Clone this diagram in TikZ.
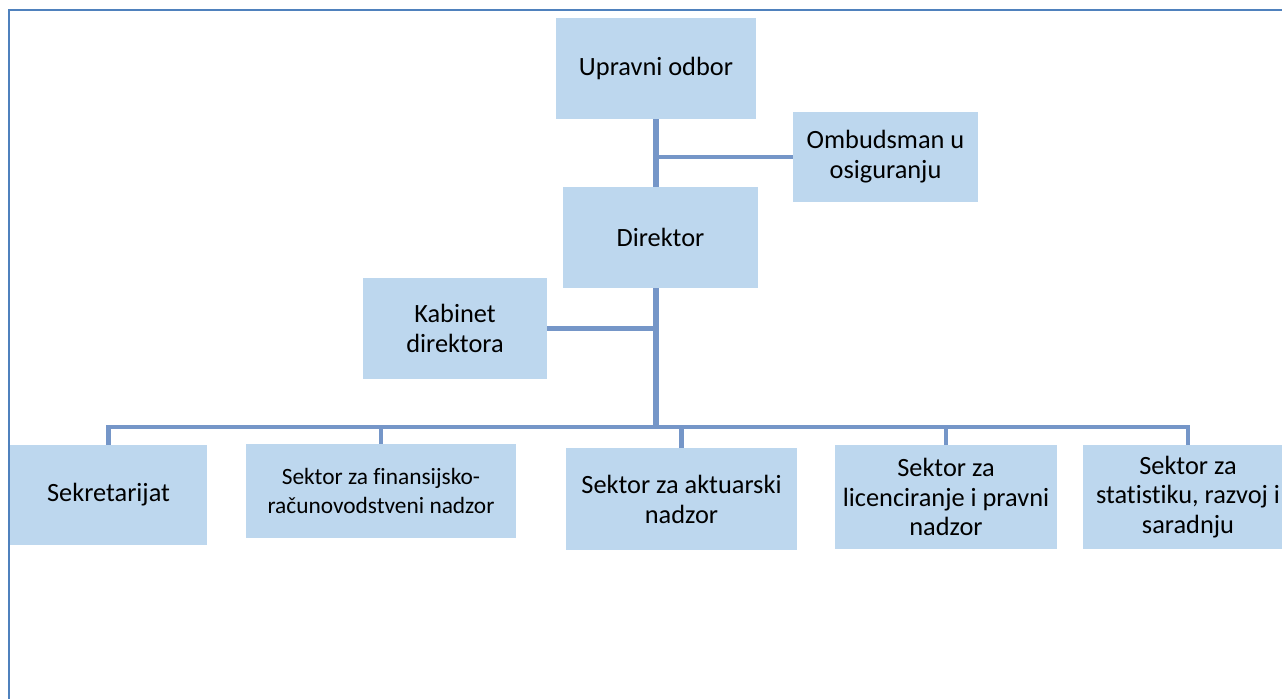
\documentclass[tikz,border=0pt]{standalone}
\usepackage{fontspec}
\setmainfont[Ligatures=NoCommon]{Carlito}
\usepackage{tikz}
\usetikzlibrary{positioning}
\usetikzlibrary{calc}
\definecolor{box blue}{RGB}{189,215,238}
\definecolor{line blue}{RGB}{117,150,200}
\definecolor{frame blue}{RGB}{79,129,189}
\tikzset{
    % Light filled box used for every unit of the chart
    unit box/.style={
        fill=box blue, inner sep=0, align=center,
        font=\fontsize{15}{17}\selectfont},
%
    % Slightly smaller text where the label is long
    small text/.style={font=\fontsize{13.3}{16}\selectfont},
%
    % The heavy line running down the middle
    trunk line/.style={draw=line blue, line width=3.8pt},
%
    % Thinner lines out to the other boxes
    branch line/.style={draw=line blue, line width=2.8pt},
%
    % Frame round the page
    frame line/.style={draw=frame blue, line width=1.3pt}}
\pgfdeclarelayer{background}
\pgfsetlayers{background,main}
\begin{document}
\begin{tikzpicture}[x=0.02cm, y=-0.02cm]

% Page size and frame

\useasboundingbox (0,0) rectangle (1282,698);
\clip (0,0) rectangle (1282,698);
\draw [frame line] (9,720) -- (9,10) -- (1300,10);

% Management

\node [unit box, minimum width=4cm, minimum height=2.02cm]
    (upravni) at (656,68.5) {Upravni odbor};
\node [unit box, minimum width=3.7cm, minimum height=1.8cm]
    (ombudsman) at (885.5,157) {Ombudsman u\\osiguranju};
\node [unit box, minimum width=3.9cm, minimum height=2.02cm]
    (direktor) at (660.5,237.5) {Direktor};
\node [unit box, minimum width=3.68cm, minimum height=2.02cm]
    (kabinet) at (455,328.5) {Kabinet\\direktora};

% Sectors

\node [unit box, minimum width=3.94cm, minimum height=2cm]
    (sekretarijat) at (108.5,495) {Sekretarijat};
\node [unit box, small text, minimum width=5.4cm, minimum height=1.88cm]
    (finansijsko) at (381,491)
    {Sektor za finansijsko-\\računovodstveni nadzor};
\node [unit box, minimum width=4.62cm, minimum height=2.04cm]
    (aktuarski) at (681.5,499) {Sektor za aktuarski\\nadzor};
\node [unit box, minimum width=4.44cm, minimum height=2.08cm]
    (licenciranje) at (946,497) {Sektor za\\licenciranje i pravni\\nadzor};
\node [unit box, minimum width=4.2cm, minimum height=2.08cm]
    (statistiku) at (1188,497) {Sektor za\\statistiku, razvoj i\\saradnju};

\coordinate (bus) at (656,427);

\begin{pgfonlayer}{background}
\draw [trunk line] (upravni.south) -- (bus);
\draw [branch line] (upravni.south |- ombudsman.west) -- (ombudsman.west);
\draw [branch line] (kabinet.east) -- (kabinet.east -| bus);
\foreach \unit in {sekretarijat,finansijsko,aktuarski,licenciranje,statistiku}
    \draw [branch line] (bus) -| (\unit.north);
\end{pgfonlayer}

\end{tikzpicture}
\end{document}
